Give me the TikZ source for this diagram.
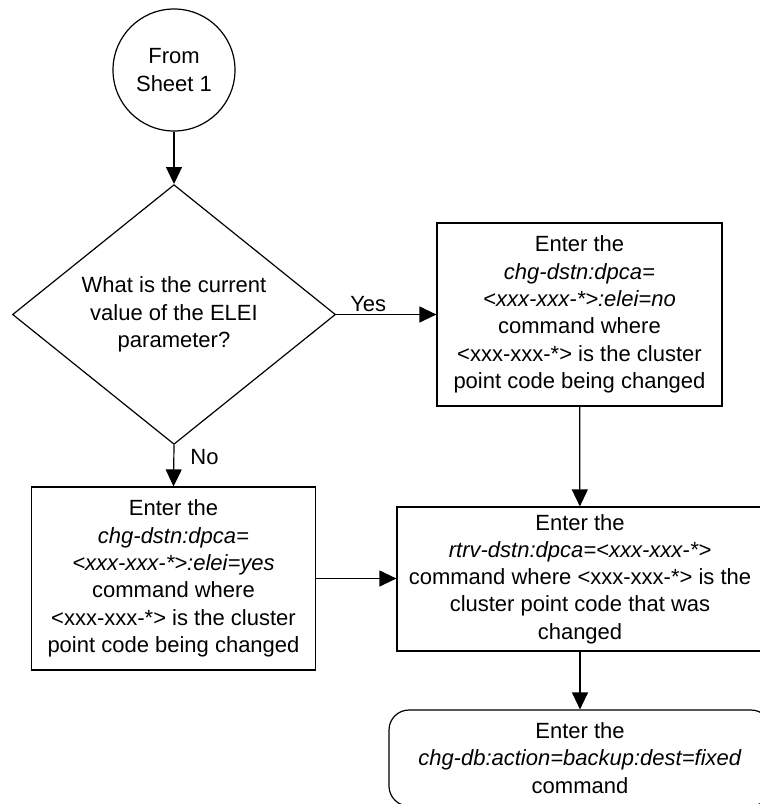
\documentclass[tikz,border=0pt]{standalone}
\usepackage{fontspec}
\setmainfont{Liberation Sans}
\usepackage{tikz}
\usetikzlibrary{shapes.geometric, arrows.meta, positioning}

\begin{document}
\begin{tikzpicture}[x=1pt, y=-1pt,
    font=\fontsize{22}{27.3}\selectfont,
    every node/.style={align=center},
    startcircle/.style={draw, circle, line width=1.2pt, minimum size=122pt, inner sep=0pt},
    decision/.style={draw, diamond, line width=1.2pt, minimum width=323pt, minimum height=213pt, inner sep=0pt},
    process/.style={draw, rectangle, line width=1.2pt, inner sep=0pt},
    finalbox/.style={draw, rectangle, rounded corners=20pt, line width=1.2pt, inner sep=0pt},
    flow/.style={line width=1.2pt, -{Triangle[length=17pt, width=16pt]}},
    answer/.style={inner sep=2pt}]
    \useasboundingbox (0,0) rectangle (760,804);
    % start connector
    \node[startcircle] (start) at (174,70) {From\\Sheet 1};
    % decision
    \node[decision] (ask) at (174,314.5) {What is the current\\value of the ELEI\\parameter?};
    % the two changes
    \node[process, minimum width=285pt, minimum height=183pt] (setno) at (579.5,314.5)
      {Enter the\\\textit{chg-dstn:dpca=}\\\textit{<xxx-xxx-*>:elei=no}\\command where\\<xxx-xxx-*> is the cluster\\point code being changed};
    \node[process, minimum width=284pt, minimum height=183pt] (setyes) at (173.5,578.5)
      {Enter the\\\textit{chg-dstn:dpca=}\\\textit{<xxx-xxx-*>:elei=yes}\\command where\\<xxx-xxx-*> is the cluster\\point code being changed};
    % verify and back up
    \node[process, minimum width=366pt, minimum height=144pt] (rtrv) at (580,579)
      {Enter the\\\textit{rtrv-dstn:dpca=<xxx-xxx-*>}\\command where <xxx-xxx-*> is the\\cluster point code that was\\changed};
    \node[finalbox, minimum width=382pt, minimum height=96pt] (backup) at (580,758)
      {Enter the\\\textit{chg-db:action=backup:dest=fixed}\\command};
    % connectors
    \draw[flow] (start) -- (ask);
    \draw[flow] (ask.east) -- node[answer, pos=0.32, above] (yes) {Yes} (setno.west |- ask.east);
    \draw[flow] (ask.south) -- node[answer, pos=0.3, right=14pt] (no) {No} (setyes.north);
    \draw[flow] (setno) -- (rtrv);
    \draw[flow] (setyes.east) -- (rtrv.west |- setyes.east);
    \draw[flow] (rtrv) -- (backup);
\end{tikzpicture}
\end{document}
